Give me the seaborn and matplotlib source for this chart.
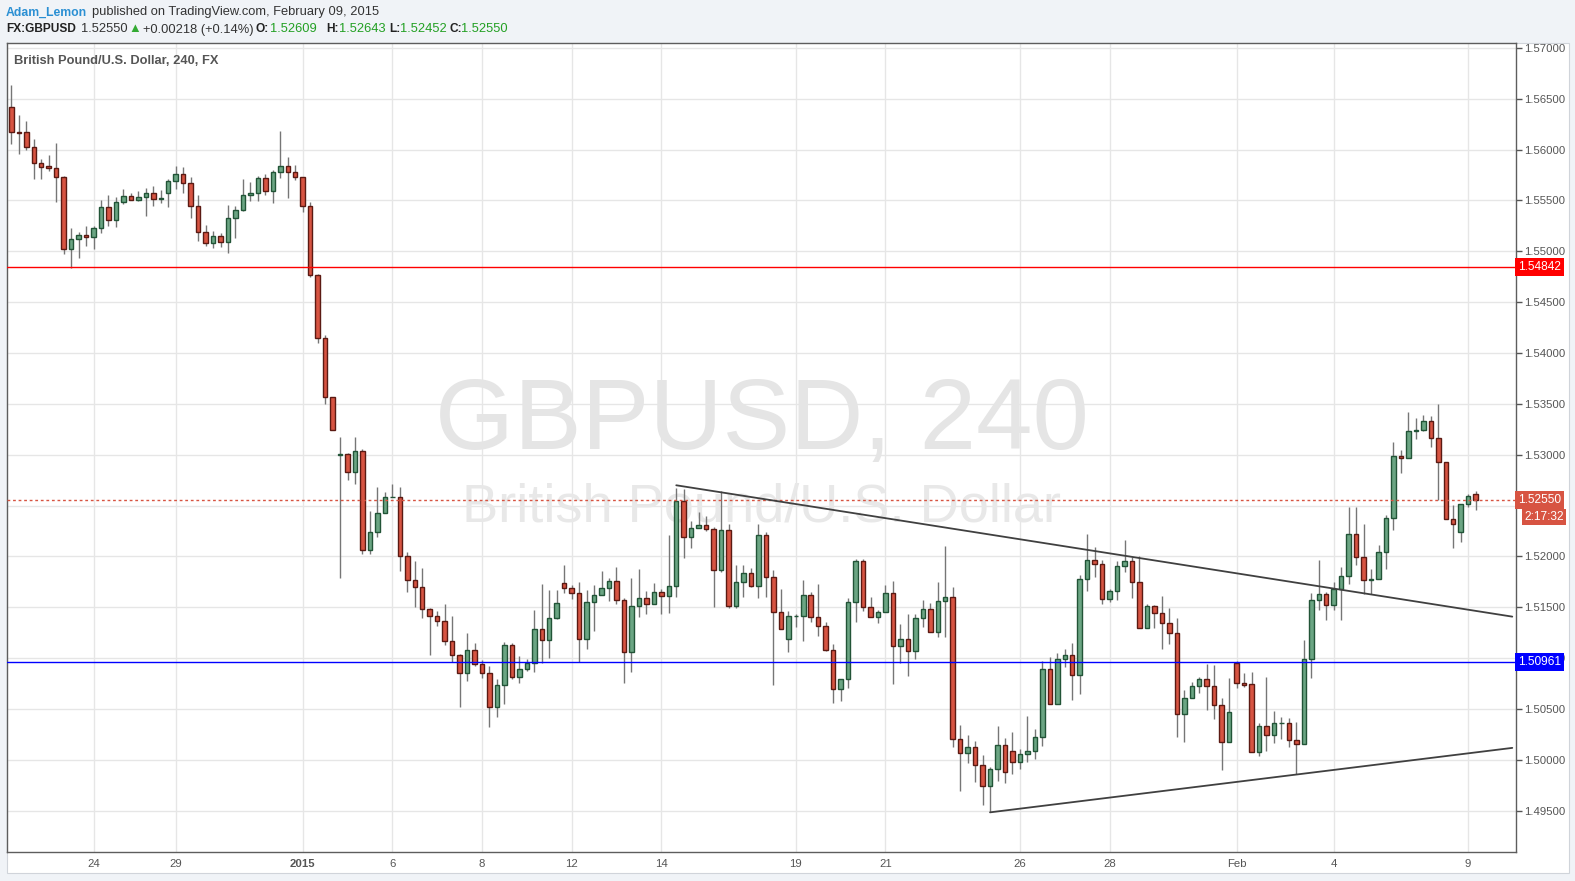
import numpy as np
import pandas as pd
import matplotlib
matplotlib.use('Agg')
import matplotlib.pyplot as plt
import seaborn as sns
from matplotlib.patches import Rectangle

# ---- data (GBPUSD 4h candles) ----
opens = [1.56417, 1.56177, 1.56171, 1.56023, 1.55866, 1.55836, 1.55817, 1.55728, 1.55026, 1.55118,
         1.55161, 1.55144, 1.55227, 1.55433, 1.55305, 1.55482, 1.55541, 1.55502, 1.55531, 1.55571,
         1.55512, 1.55571, 1.55689, 1.55761, 1.55669, 1.55443, 1.55187, 1.55079, 1.55148, 1.55089,
         1.55325, 1.55404, 1.55551, 1.55571, 1.55718, 1.55590, 1.55777, 1.55836, 1.55777, 1.55728,
         1.55443, 1.54764, 1.54145, 1.53564, 1.53000, 1.53004, 1.52833, 1.53033, 1.52059, 1.52236,
         1.52423, 1.52581, 1.52581, 1.52000, 1.51764, 1.51696, 1.51479, 1.51410, 1.51361, 1.51164,
         1.51027, 1.50850, 1.51076, 1.50938, 1.50850, 1.50515, 1.50732, 1.51125, 1.50810, 1.50889,
         1.50948, 1.51282, 1.51174, 1.51390, 1.51735, 1.51686, 1.51637, 1.51184, 1.51548, 1.51617,
         1.51689, 1.51755, 1.51568, 1.51056, 1.51509, 1.51587, 1.51528, 1.51646, 1.51607, 1.51705,
         1.52541, 1.52187, 1.52276, 1.52305, 1.52266, 1.51863, 1.52256, 1.51509, 1.51745, 1.51833,
         1.51705, 1.52207, 1.51794, 1.51450, 1.51184, 1.51410, 1.51410, 1.51617, 1.51400, 1.51312,
         1.51076, 1.50692, 1.50790, 1.51548, 1.51951, 1.51499, 1.51400, 1.51450, 1.51637, 1.51115,
         1.51184, 1.51066, 1.51390, 1.51479, 1.51253, 1.51558, 1.51597, 1.50201, 1.50063, 1.50122,
         1.49945, 1.49738, 1.49905, 1.50141, 1.50082, 1.49974, 1.50053, 1.50082, 1.50220, 1.50889,
         1.50545, 1.50987, 1.51027, 1.50830, 1.51774, 1.51961, 1.51922, 1.51577, 1.51656, 1.51902,
         1.51951, 1.51745, 1.51292, 1.51509, 1.51440, 1.51341, 1.51243, 1.50446, 1.50604, 1.50722,
         1.50790, 1.50722, 1.50535, 1.50171, 1.50954, 1.50751, 1.50741, 1.50073, 1.50328, 1.50240,
         1.50358, 1.50358, 1.50191, 1.50151, 1.50987, 1.51568, 1.51627, 1.51519, 1.51676, 1.51804,
         1.52217, 1.51991, 1.51764, 1.51774, 1.52040, 1.52374, 1.52984, 1.52964, 1.53230, 1.53240,
         1.53328, 1.53161, 1.52925, 1.52364, 1.52236, 1.52512, 1.52609]
highs = [1.56636, 1.56341, 1.56282, 1.56102, 1.55908, 1.55947, 1.56066, 1.55741, 1.55227, 1.55190,
         1.55249, 1.55249, 1.55505, 1.55554, 1.55537, 1.55613, 1.55571, 1.55593, 1.55623, 1.55640,
         1.55603, 1.55708, 1.55839, 1.55829, 1.55731, 1.55554, 1.55259, 1.55200, 1.55180, 1.55456,
         1.55443, 1.55708, 1.55682, 1.55741, 1.55761, 1.55797, 1.56184, 1.55928, 1.55849, 1.55728,
         1.55488, 1.54777, 1.54177, 1.53564, 1.53171, 1.53019, 1.53171, 1.53056, 1.52446, 1.52682,
         1.52633, 1.52709, 1.52682, 1.52040, 1.51954, 1.51882, 1.51489, 1.51462, 1.51528, 1.51413,
         1.51039, 1.51246, 1.51148, 1.50980, 1.50921, 1.50794, 1.51157, 1.51145, 1.51020, 1.50990,
         1.51472, 1.51728, 1.51669, 1.51669, 1.51915, 1.51721, 1.51748, 1.51666, 1.51718, 1.51856,
         1.51787, 1.51895, 1.51593, 1.51787, 1.51875, 1.51659, 1.51735, 1.51679, 1.52210, 1.52669,
         1.52659, 1.52348, 1.52433, 1.52394, 1.52285, 1.52640, 1.52315, 1.51912, 1.51912, 1.51882,
         1.52315, 1.52236, 1.51863, 1.51676, 1.51462, 1.51430, 1.51764, 1.51646, 1.51728, 1.51351,
         1.51135, 1.50790, 1.51587, 1.51974, 1.51974, 1.51597, 1.51472, 1.51715, 1.51755, 1.51332,
         1.51430, 1.51430, 1.51568, 1.51538, 1.51745, 1.52102, 1.51696, 1.50338, 1.50240, 1.50184,
         1.50043, 1.49925, 1.50328, 1.50210, 1.50269, 1.50102, 1.50427, 1.50299, 1.50968, 1.51007,
         1.51046, 1.51086, 1.51145, 1.51814, 1.52217, 1.52089, 1.51961, 1.51676, 1.51951, 1.52158,
         1.51991, 1.52000, 1.51528, 1.51519, 1.51607, 1.51489, 1.51390, 1.50682, 1.50761, 1.50810,
         1.50938, 1.50928, 1.50604, 1.50800, 1.50968, 1.50850, 1.50859, 1.50358, 1.50810, 1.50476,
         1.50417, 1.50407, 1.50368, 1.51174, 1.51637, 1.51961, 1.51646, 1.51745, 1.51892, 1.52485,
         1.52485, 1.52315, 1.51872, 1.52109, 1.52404, 1.53122, 1.53043, 1.53417, 1.53358, 1.53390,
         1.53377, 1.53495, 1.52925, 1.52502, 1.52512, 1.52610, 1.52643]
lows = [1.56056, 1.55957, 1.55997, 1.55711, 1.55711, 1.55793, 1.55488, 1.54977, 1.54833, 1.54937,
        1.55055, 1.55026, 1.55183, 1.55252, 1.55242, 1.55466, 1.55502, 1.55498, 1.55350, 1.55449,
        1.55478, 1.55439, 1.55613, 1.55577, 1.55331, 1.55105, 1.55055, 1.55036, 1.55046, 1.54987,
        1.55134, 1.55394, 1.55498, 1.55498, 1.55557, 1.55478, 1.55724, 1.55528, 1.55702, 1.55390,
        1.54750, 1.54101, 1.53498, 1.53240, 1.51790, 1.52751, 1.52714, 1.52023, 1.52020, 1.52193,
        1.52423, 1.52581, 1.51859, 1.51652, 1.51505, 1.51397, 1.51033, 1.51315, 1.51131, 1.50956,
        1.50521, 1.50777, 1.50924, 1.50806, 1.50324, 1.50423, 1.50551, 1.50797, 1.50757, 1.50875,
        1.50865, 1.50948, 1.51003, 1.51387, 1.51637, 1.51583, 1.50958, 1.51092, 1.51269, 1.51617,
        1.51564, 1.51534, 1.50757, 1.50865, 1.51406, 1.51436, 1.51528, 1.51436, 1.51446, 1.51603,
        1.51987, 1.52085, 1.52276, 1.52252, 1.51505, 1.51843, 1.51489, 1.51489, 1.51597, 1.51696,
        1.51587, 1.51603, 1.50732, 1.51282, 1.51062, 1.51308, 1.51170, 1.51357, 1.51217, 1.51066,
        1.50560, 1.50580, 1.50708, 1.51357, 1.51465, 1.51400, 1.51341, 1.51450, 1.50741, 1.50948,
        1.50820, 1.50987, 1.51302, 1.51253, 1.51210, 1.51210, 1.50128, 1.49695, 1.49970, 1.49783,
        1.49557, 1.49482, 1.49787, 1.49768, 1.49856, 1.49905, 1.49974, 1.50004, 1.50132, 1.50545,
        1.50545, 1.50909, 1.50584, 1.50643, 1.51656, 1.51794, 1.51528, 1.51548, 1.51568, 1.51843,
        1.51587, 1.51292, 1.51292, 1.51292, 1.51086, 1.51135, 1.50220, 1.50171, 1.50604, 1.50653,
        1.50486, 1.50403, 1.49898, 1.50171, 1.50702, 1.50718, 1.50073, 1.50039, 1.50082, 1.50161,
        1.50200, 1.50122, 1.49856, 1.50151, 1.50800, 1.51469, 1.51371, 1.51469, 1.51374, 1.51725,
        1.51910, 1.51630, 1.51630, 1.51774, 1.51878, 1.52256, 1.52817, 1.52964, 1.53157, 1.53230,
        1.53072, 1.52557, 1.52364, 1.52085, 1.52144, 1.52482, 1.52452]
closes = [1.56177, 1.56167, 1.56023, 1.55866, 1.55832, 1.55817, 1.55728, 1.55026, 1.55118, 1.55161,
          1.55144, 1.55227, 1.55433, 1.55305, 1.55482, 1.55541, 1.55502, 1.55531, 1.55571, 1.55512,
          1.55522, 1.55689, 1.55761, 1.55669, 1.55443, 1.55187, 1.55079, 1.55148, 1.55089, 1.55325,
          1.55404, 1.55551, 1.55571, 1.55718, 1.55590, 1.55777, 1.55836, 1.55777, 1.55728, 1.55443,
          1.54764, 1.54145, 1.53564, 1.53240, 1.53000, 1.52833, 1.53033, 1.52059, 1.52236, 1.52423,
          1.52581, 1.52581, 1.52000, 1.51764, 1.51696, 1.51479, 1.51410, 1.51361, 1.51164, 1.51027,
          1.50850, 1.51076, 1.50938, 1.50850, 1.50515, 1.50732, 1.51125, 1.50810, 1.50889, 1.50948,
          1.51282, 1.51174, 1.51390, 1.51538, 1.51686, 1.51637, 1.51184, 1.51548, 1.51617, 1.51686,
          1.51755, 1.51568, 1.51056, 1.51509, 1.51587, 1.51528, 1.51646, 1.51607, 1.51705, 1.52541,
          1.52187, 1.52276, 1.52305, 1.52266, 1.51863, 1.52256, 1.51509, 1.51745, 1.51833, 1.51705,
          1.52207, 1.51794, 1.51450, 1.51288, 1.51410, 1.51410, 1.51617, 1.51400, 1.51312, 1.51076,
          1.50692, 1.50790, 1.51548, 1.51951, 1.51499, 1.51400, 1.51450, 1.51637, 1.51115, 1.51184,
          1.51066, 1.51390, 1.51479, 1.51253, 1.51558, 1.51597, 1.50201, 1.50063, 1.50122, 1.49945,
          1.49738, 1.49905, 1.50141, 1.49876, 1.49974, 1.50053, 1.50082, 1.50220, 1.50889, 1.50545,
          1.50987, 1.51027, 1.50830, 1.51774, 1.51961, 1.51922, 1.51577, 1.51656, 1.51902, 1.51951,
          1.51745, 1.51292, 1.51509, 1.51440, 1.51341, 1.51243, 1.50446, 1.50604, 1.50722, 1.50790,
          1.50722, 1.50535, 1.50171, 1.50466, 1.50751, 1.50737, 1.50073, 1.50328, 1.50240, 1.50358,
          1.50358, 1.50191, 1.50151, 1.50987, 1.51568, 1.51627, 1.51519, 1.51676, 1.51804, 1.52217,
          1.51991, 1.51764, 1.51774, 1.52040, 1.52374, 1.52984, 1.52964, 1.53230, 1.53240, 1.53328,
          1.53161, 1.52925, 1.52364, 1.52315, 1.52512, 1.52591, 1.52550]

date_pos = [11, 22, 39, 51, 63, 75, 87, 105, 117, 135, 147, 164, 177, 195]
date_labels = ['24', '29', '2015', '6', '8', '12', '14', '19', '21', '26', '28', 'Feb', '4', '9']

resistance = 1.54842
support = 1.50961
last_price = 1.52550
countdown = '2:17:32'

# trend lines: candle index / price of the two anchor points
upper_x = [89.0, 200.9]
upper_y = [1.52699, 1.51407]
lower_x = [131.0, 200.9]
lower_y = [1.49482, 1.50116]

# ---- style ----
sns.set_theme(style='white')
plt.rcParams['font.family'] = ['Liberation Sans', 'DejaVu Sans']

W, H = 1575, 881
fig = plt.figure(figsize=(W / 100, H / 100), dpi=100, facecolor='#f0f3f7')

# white chart panel behind plot and scales
panel = Rectangle((7 / W, 1 - 873 / H), (1569 - 7) / W, (873 - 43) / H,
                  transform=fig.transFigure, fc='white', ec='#d0d4da', lw=0.8, zorder=-1)
fig.patches.append(panel)

ax = fig.add_axes([7 / W, 1 - 852 / H, (1516 - 7) / W, (852 - 43) / H])
ax.set_zorder(1)
ax.set_facecolor('white')

df = pd.DataFrame({'open': opens, 'high': highs, 'low': lows, 'close': closes})
df['x'] = np.arange(len(df))
up = df['close'] >= df['open']
body_bottom = df[['open', 'close']].min(axis=1)
body_h = (df['close'] - df['open']).abs().clip(lower=0.00003)

ax.vlines(df['x'], df['low'], df['high'], color='#767676', lw=1, zorder=2)
ax.bar(df['x'][up], body_h[up], bottom=body_bottom[up], width=0.6,
       color='#6ba583', edgecolor='#225437', lw=1, zorder=3)
ax.bar(df['x'][~up], body_h[~up], bottom=body_bottom[~up], width=0.6,
       color='#d75442', edgecolor='#5b1a13', lw=1, zorder=3)

# horizontal levels and trend lines
ax.axhline(resistance, color='#ff0000', lw=1, zorder=4)
ax.axhline(support, color='#0000ff', lw=1, zorder=4)
ax.axhline(last_price, color='#d75442', lw=1, ls=(0, (2, 2)), zorder=4)
sns.lineplot(x=upper_x, y=upper_y, ax=ax, color='#404040', lw=1.3, zorder=4)
sns.lineplot(x=lower_x, y=lower_y, ax=ax, color='#404040', lw=1.3, zorder=4)

# watermark
ax.text(0.5, 0.53, 'GBPUSD, 240', transform=ax.transAxes, ha='center', va='center',
        fontsize=73, color='#e5e5e5', zorder=1)
ax.text(0.5, 0.426, 'British Pound/U.S. Dollar', transform=ax.transAxes, ha='center',
        va='center', fontsize=39, color='#e8e8e8', zorder=1)
ax.text(0.0046, 0.978, 'British Pound/U.S. Dollar, 240, FX', transform=ax.transAxes,
        ha='left', va='center', fontsize=9.3, color='#555555', fontweight='bold', zorder=5)

# axes, grid, ticks
ax.set_xlim(-0.58, 201.4)
ax.set_ylim(1.49092, 1.57049)
price_ticks = np.round(np.arange(1.495, 1.5701, 0.005), 3)
ax.set_yticks(price_ticks)
# the 1.525 label sits under the last-price box, as on the original
ax.set_yticklabels(['' if abs(p - 1.525) < 1e-9 else f'{p:.5f}' for p in price_ticks])
ax.yaxis.tick_right()
ax.set_xticks(date_pos)
ax.set_xticklabels(date_labels)
for lbl in ax.get_xticklabels():
    if lbl.get_text() == '2015':
        lbl.set_fontweight('bold')
ax.tick_params(axis='y', direction='out', length=4, width=1, color='#555555',
               labelsize=8.2, labelcolor='#555555', pad=2)
ax.tick_params(axis='x', direction='out', length=3, width=1, color='#555555',
               labelsize=8.2, labelcolor='#555555', pad=2)
ax.grid(True, color='#e6e6e6', lw=1)
ax.set_axisbelow(True)
for s in ax.spines.values():
    s.set_color('#5d5d5d')
    s.set_linewidth(1)

# price boxes on the right scale
box_kw = dict(transform=ax.get_yaxis_transform(), ha='left', va='center', fontsize=8.6,
              color='white', zorder=6, clip_on=False)
ax.text(1.0015, resistance, f'{resistance:.5f}',
        bbox=dict(boxstyle='square,pad=0.25', fc='#ff0000', ec='none'), **box_kw)
ax.text(1.0015, support, f'{support:.5f}',
        bbox=dict(boxstyle='square,pad=0.25', fc='#0000ff', ec='none'), **box_kw)
ax.text(1.0015, last_price, f'{last_price:.5f}',
        bbox=dict(boxstyle='square,pad=0.25', fc='#d75442', ec='none'), **box_kw)
ax.annotate(countdown, xy=(1, last_price), xycoords=('axes fraction', 'data'),
            xytext=(6, -12), textcoords='offset points', ha='left', va='center',
            fontsize=8.6, color='white', zorder=6, annotation_clip=False,
            bbox=dict(boxstyle='square,pad=0.2', fc='#d75442', ec='none'))

# header
fs, fsb = 9.3, 8.6
y1, y2 = 1 - 12.5 / H, 1 - 29.5 / H
fig.text(6 / W, y1, 'Adam_Lemon', color='#2a8fd3', fontweight='bold', fontsize=8.8, va='center')
fig.text(92 / W, y1, 'published on TradingView.com, February 09, 2015', color='#333333',
         fontsize=fs, va='center')
green = '#23a023'
header2 = [(6, 'FX:GBPUSD', '#222222', 'bold', fsb), (81, '1.52550', '#333333', 'normal', fs),
           (128, '\u25b2', '#33aa33', 'normal', fs), (143, '+0.00218 (+0.14%)', '#333333', 'normal', fs),
           (256, 'O:', '#222222', 'bold', fsb), (270, '1.52609', green, 'normal', fs),
           (326, 'H:', '#222222', 'bold', fsb), (338.5, '1.52643', green, 'normal', fs),
           (389, 'L:', '#222222', 'bold', fsb), (400, '1.52452', green, 'normal', fs),
           (449, 'C:', '#222222', 'bold', fsb), (461.5, '1.52550', green, 'normal', fs)]
for px, txt, col, wt, size in header2:
    fig.text(px / W, y2, txt, color=col, fontweight=wt, fontsize=size, va='center')

fig.savefig('out.png', dpi=100, facecolor=fig.get_facecolor())
